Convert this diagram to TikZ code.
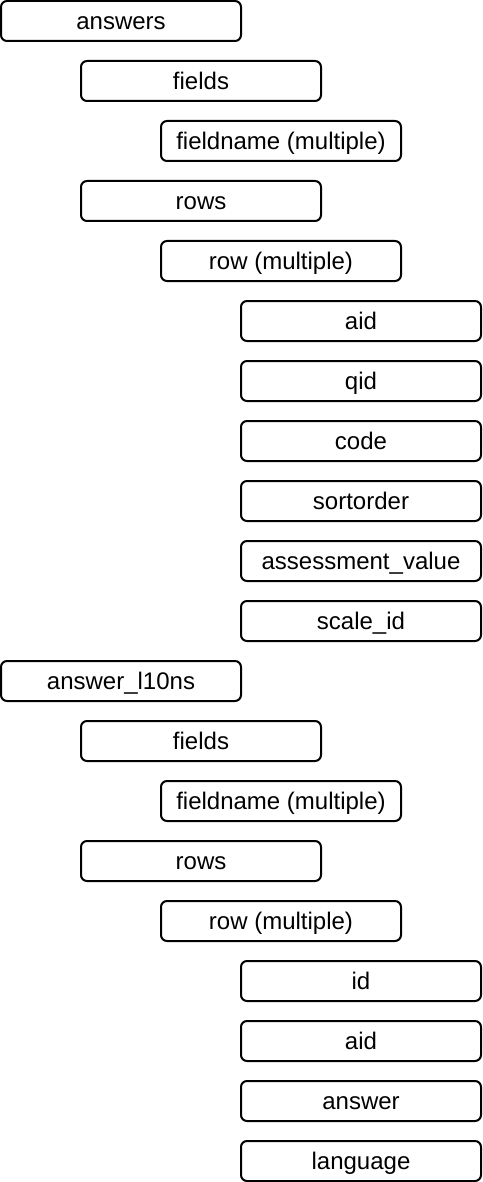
\documentclass[tikz,border=0pt]{standalone}
\usepackage{fontspec}
\setmainfont{Liberation Sans}
\tikzset{
	field/.style={draw, rounded corners=3pt, line width=1pt, minimum width=120pt, minimum height=20pt, inner sep=0pt, outer sep=0pt, text height=10pt, text depth=1.7pt, font=\fontsize{12}{14}\selectfont}
}
\begin{document}
\begin{tikzpicture}[x=1pt, y=-1pt]
		\useasboundingbox (0,0) rectangle (241,591);
		% answers table
		\node [field] (answers) at (60.5,10.5) {answers};
		\node [field] (afields) at (100.5,40.5) {fields};
		\node [field] (afieldname) at (140.5,70.5) {fieldname (multiple)};
		\node [field] (arows) at (100.5,100.5) {rows};
		\node [field] (arow) at (140.5,130.5) {row (multiple)};
		\node [field] (aaid) at (180.5,160.5) {aid};
		\node [field] (aqid) at (180.5,190.5) {qid};
		\node [field] (acode) at (180.5,220.5) {code};
		\node [field] (asortorder) at (180.5,250.5) {sortorder};
		\node [field] (aassessment) at (180.5,280.5) {assessment\_value};
		\node [field] (ascale) at (180.5,310.5) {scale\_id};
		% answer_l10ns table
		\node [field] (lten) at (60.5,340.5) {answer\_l10ns};
		\node [field] (lfields) at (100.5,370.5) {fields};
		\node [field] (lfieldname) at (140.5,400.5) {fieldname (multiple)};
		\node [field] (lrows) at (100.5,430.5) {rows};
		\node [field] (lrow) at (140.5,460.5) {row (multiple)};
		\node [field] (lid) at (180.5,490.5) {id};
		\node [field] (laid) at (180.5,520.5) {aid};
		\node [field] (lanswer) at (180.5,550.5) {answer};
		\node [field] (llanguage) at (180.5,580.5) {language};
	\end{tikzpicture}
\end{document}
